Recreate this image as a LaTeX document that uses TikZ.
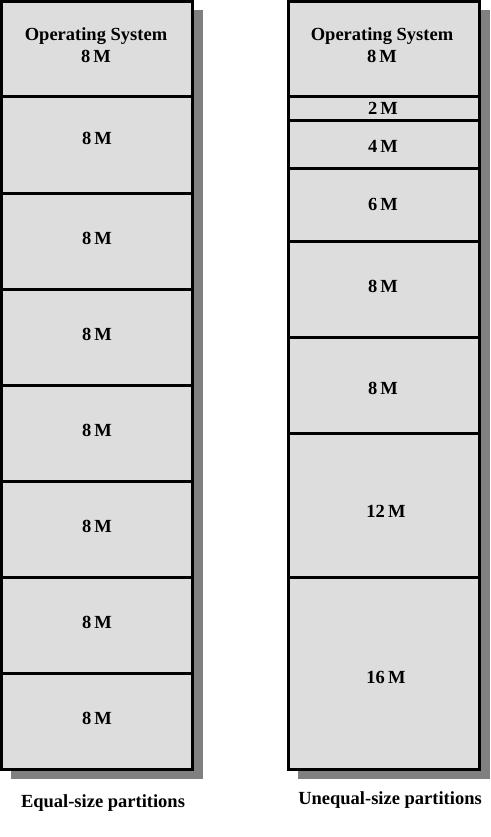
\documentclass[tikz,border=0pt]{standalone}
\usepackage{fontspec}
\setmainfont{Liberation Serif}
\begin{document}
\begin{tikzpicture}[x=1pt,y=-1pt,
  shadowbox/.style={fill=shadowgray,draw=none},
  partbox/.style={fill=partgray,draw=black,line width=3pt},
  divider/.style={draw=black,line width=3pt},
  lbl/.style={font=\fontsize{18.5}{22}\selectfont\bfseries,inner sep=0pt,align=center},
  captext/.style={font=\fontsize{18.5}{22}\selectfont\bfseries,inner sep=0pt}]
\definecolor{shadowgray}{RGB}{128,128,128}
\definecolor{partgray}{RGB}{221,221,221}
\useasboundingbox (0,0) rectangle (490,837);
% shadows
\fill[shadowbox] (11,10) rectangle (203,779);
\fill[shadowbox] (298,10) rectangle (490,779);
% left column
\draw[partbox] (1.5,1.5) rectangle (192.5,769);
\foreach \y in {97,193,289,385,481,577,673} \draw[divider] (1.5,\y) -- (192.5,\y);
% right column
\draw[partbox] (288.5,1.5) rectangle (479.5,769);
\foreach \y in {97,121,169,241,337,433,577} \draw[divider] (288.5,\y) -- (479.5,\y);
% left labels
\node[lbl] (l0) at (96,45) {Operating System\\8\,M};
\node[lbl] (l1) at (97,138) {8\,M};
\node[lbl] (l2) at (97,238) {8\,M};
\node[lbl] (l3) at (97,334) {8\,M};
\node[lbl] (l4) at (97,430) {8\,M};
\node[lbl] (l5) at (97,526) {8\,M};
\node[lbl] (l6) at (97,622) {8\,M};
\node[lbl] (l7) at (97,718) {8\,M};
% right labels
\node[lbl] (r0) at (382,45) {Operating System\\8\,M};
\node[lbl] (r1) at (383,108) {2\,M};
\node[lbl] (r2) at (383,146) {4\,M};
\node[lbl] (r3) at (383,204) {6\,M};
\node[lbl] (r4) at (383,286) {8\,M};
\node[lbl] (r5) at (383,388) {8\,M};
\node[lbl] (r6) at (386,511) {12\,M};
\node[lbl] (r7) at (386,677) {16\,M};
% captions
\node[captext] (c1) at (103,803) {Equal-size partitions};
\node[captext] (c2) at (390,800) {Unequal-size partitions};
\end{tikzpicture}
\end{document}
